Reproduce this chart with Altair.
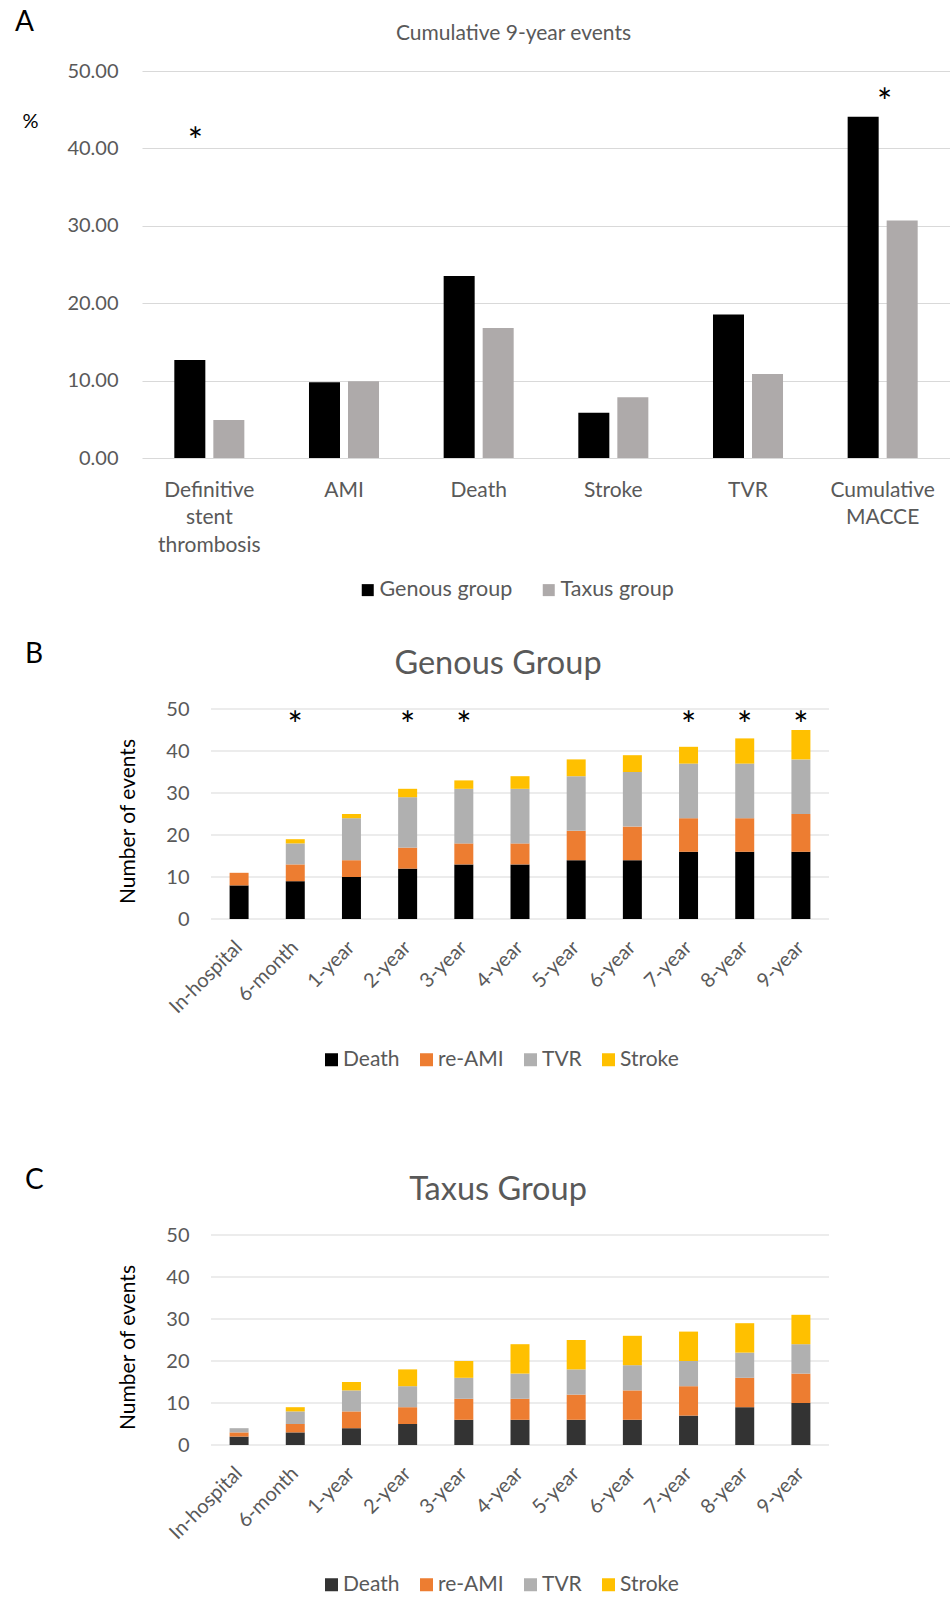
import altair as alt
import pandas as pd

FONT = "Lato"
GREY_TEXT = "#595959"
GRID = "#D9D9D9"

# ---- Panel A: cumulative 9-year event rates (%) ----
outcomes = ["Definitive stent thrombosis", "AMI", "Death", "Stroke", "TVR", "Cumulative MACCE"]
groups = ["Genous group", "Taxus group"]
genous_pct = [12.65, 9.8, 23.5, 5.85, 18.55, 44.1]
taxus_pct = [4.9, 9.9, 16.8, 7.85, 10.85, 30.7]
group_colors = ["#000000", "#AEAAAA"]
sig_outcomes = ["Definitive stent thrombosis", "Cumulative MACCE"]
sig_levels_a = [42.0, 47.0]

# ---- Panels B and C: cumulative number of events over follow-up ----
periods = ["In-hospital", "6-month", "1-year", "2-year", "3-year", "4-year",
           "5-year", "6-year", "7-year", "8-year", "9-year"]
event_types = ["Death", "re-AMI", "TVR", "Stroke"]
count_ticks = [0, 10, 20, 30, 40, 50]

genous_death = [8, 9, 10, 12, 13, 13, 14, 14, 16, 16, 16]
genous_reami = [3, 4, 4, 5, 5, 5, 7, 8, 8, 8, 9]
genous_tvr = [0, 5, 10, 12, 13, 13, 13, 13, 13, 13, 13]
genous_stroke = [0, 1, 1, 2, 2, 3, 4, 4, 4, 6, 7]

taxus_death = [2, 3, 4, 5, 6, 6, 6, 6, 7, 9, 10]
taxus_reami = [1, 2, 4, 4, 5, 5, 6, 7, 7, 7, 7]
taxus_tvr = [1, 3, 5, 5, 5, 6, 6, 6, 6, 6, 7]
taxus_stroke = [0, 1, 2, 4, 4, 7, 7, 7, 7, 7, 7]

genous_sig_periods = ["6-month", "2-year", "3-year", "7-year", "8-year", "9-year"]
sig_level_b = 48

genous_colors = ["#000000", "#ED7D31", "#B0B0B0", "#FFC000"]
taxus_colors = ["#333333", "#ED7D31", "#B0B0B0", "#FFC000"]

# All panels share one frame origin; the stacked panels draw their bars, grid
# and y axis 69 px to the right of it, so their plot area is inset from panel A's.
INSET = 69
STACK_WIDTH = 687


def label_layer(text, x, y, size, color, align="left"):
    return alt.Chart(pd.DataFrame({"t": [text]})).mark_text(
        font=FONT, fontSize=size, color=color, align=align, baseline="alphabetic"
    ).encode(text="t:N", x=alt.value(x), y=alt.value(y))


def independent(c):
    return c.resolve_scale(
        x="independent", y="independent", color="independent", xOffset="independent"
    ).resolve_legend(color="independent")


# Panel A
rows_a = []
for i, o in enumerate(outcomes):
    rows_a.append({"outcome": o, "group": groups[0], "pct": genous_pct[i]})
    rows_a.append({"outcome": o, "group": groups[1], "pct": taxus_pct[i]})
df_a = pd.DataFrame(rows_a)

x_a = alt.X(
    "outcome:N", sort=outcomes,
    scale=alt.Scale(paddingInner=0.48, paddingOuter=0.24),
    axis=alt.Axis(title=None, labelAngle=0, labelExpr="split(datum.label, ' ')",
                  labelFont=FONT, labelFontSize=21, labelColor=GREY_TEXT,
                  labelLineHeight=27.5, labelPadding=21, labelBaseline="top",
                  domain=False, ticks=False, tickSize=0),
)
y_a = alt.Y(
    "pct:Q", scale=alt.Scale(domain=[0, 50]),
    axis=alt.Axis(values=[0, 10, 20, 30, 40, 50], format=".2f",
                  labelFont=FONT, labelFontSize=20, labelColor=GREY_TEXT, labelPadding=24,
                  domain=False, ticks=False, tickSize=0, gridColor=GRID, gridWidth=1,
                  title="%", titleAngle=0, titleX=-112, titleY=50, titleAlign="center",
                  titleBaseline="middle", titleFont=FONT, titleFontSize=20,
                  titleFontWeight="normal", titleColor="#000000"),
)
bars_a = alt.Chart(df_a).mark_bar().encode(
    x=x_a,
    xOffset=alt.XOffset("group:N", sort=groups,
                        scale=alt.Scale(paddingInner=0.205, paddingOuter=0)),
    y=y_a,
    color=alt.Color("group:N", sort=groups,
                    scale=alt.Scale(domain=groups, range=group_colors),
                    legend=alt.Legend(orient="none", legendX=215, legendY=508,
                                      direction="horizontal", title=None,
                                      symbolType="square", symbolSize=144,
                                      symbolStrokeWidth=0, labelFont=FONT,
                                      labelFontSize=21.5, labelColor=GREY_TEXT,
                                      columnPadding=25, labelOffset=1, padding=0)),
)
df_sig_a = pd.DataFrame({"outcome": sig_outcomes, "level": sig_levels_a, "mark": ["*", "*"]})
star_shift = [-14, 2]
stars_a = [
    alt.Chart(df_sig_a.iloc[[k]]).mark_text(font=FONT, fontSize=36, color="#000000",
                                            baseline="middle", dx=star_shift[k], dy=10)
    .encode(x=alt.X("outcome:N", sort=outcomes), y=alt.Y("level:Q"), text="mark:N")
    for k in range(len(sig_outcomes))
]
panel_a = alt.layer(
    bars_a, *stars_a,
    label_layer("A", -127, -40, 28, "#000000"),
    label_layer("Cumulative 9-year events", 371.5, -31, 21, GREY_TEXT, align="center"),
).properties(width=808, height=387)


def stacked_panel(letter, heading, counts, colors, sig_periods, legend_y):
    rows = []
    for i, p in enumerate(periods):
        for k, ev in enumerate(event_types):
            rows.append({"period": p, "event": ev, "stack": k, "count": counts[k][i]})
    df = pd.DataFrame(rows)
    x = alt.X(
        "period:N", sort=periods,
        scale=alt.Scale(paddingInner=0.662, paddingOuter=0.331, range=[INSET, STACK_WIDTH]),
        axis=alt.Axis(title=None, labelAngle=315, labelAlign="right", labelBaseline="middle",
                      labelFont=FONT, labelFontSize=20, labelColor=GREY_TEXT,
                      labelPadding=25, labelOffset=0, domain=False, ticks=False, tickSize=0),
    )
    y_axis = alt.Axis(values=count_ticks, offset=-INSET, grid=False,
                      labelFont=FONT, labelFontSize=20,
                      labelColor=GREY_TEXT, labelPadding=22, domain=False, ticks=False,
                      tickSize=0, title="Number of events", titleFont=FONT, titleFontSize=21,
                      titleFontWeight="normal", titleColor="#000000", titleAngle=270,
                      titleX=-82.5, titleY=112, titleAlign="center", titleBaseline="middle")
    y_scale = alt.Scale(domain=[0, 50])

    # horizontal grid lines across the inset plot area, one per y tick
    grid = alt.Chart(pd.DataFrame({"count": count_ticks})).mark_rule(
        color=GRID, strokeWidth=1
    ).encode(
        y=alt.Y("count:Q", scale=y_scale, axis=y_axis),
        x=alt.value(INSET), x2=alt.value(STACK_WIDTH),
    )
    bars = alt.Chart(df).mark_bar().encode(
        x=x,
        y=alt.Y("count:Q", stack="zero", scale=y_scale, axis=y_axis),
        color=alt.Color("event:N", sort=event_types,
                        scale=alt.Scale(domain=event_types, range=colors),
                        legend=alt.Legend(orient="none", legendX=179, legendY=legend_y,
                                          direction="horizontal", title=None,
                                          symbolType="square", symbolSize=169,
                                          symbolStrokeWidth=0, labelFont=FONT,
                                          labelFontSize=21, labelColor=GREY_TEXT,
                                          columnPadding=16, labelOffset=1, padding=0)),
        order=alt.Order("stack:Q", sort="ascending"),
    )
    layers = [grid, bars]
    if sig_periods:
        df_sig = pd.DataFrame({"period": sig_periods, "level": [sig_level_b] * len(sig_periods),
                               "mark": ["*"] * len(sig_periods)})
        layers.append(
            alt.Chart(df_sig).mark_text(font=FONT, fontSize=36, color="#000000",
                                        baseline="middle", dy=10)
            .encode(x=alt.X("period:N", sort=periods), y=alt.Y("level:Q"), text="mark:N")
        )
    layers.append(label_layer(letter, -117, -46, 28, "#000000"))
    layers.append(label_layer(heading, 356, -35.5, 32.5, GREY_TEXT, align="center"))
    return alt.layer(*layers).properties(width=STACK_WIDTH, height=210)


genous_counts = [genous_death, genous_reami, genous_tvr, genous_stroke]
taxus_counts = [taxus_death, taxus_reami, taxus_tvr, taxus_stroke]

panel_b = stacked_panel("B", "Genous Group", genous_counts, genous_colors, genous_sig_periods, 340)
panel_c = stacked_panel("C", "Taxus Group", taxus_counts, taxus_colors, [], 339)

lower = independent(alt.vconcat(panel_b, panel_c, spacing=97))
chart = independent(alt.vconcat(panel_a, lower, spacing=40)).properties(
    padding={"left": 15, "top": 9, "right": 0, "bottom": 0},
    background="#FFFFFF",
).configure(font=FONT, view=alt.ViewConfig(stroke=None))

chart.save("out.html", embed_options={"renderer": "svg", "actions": False})
